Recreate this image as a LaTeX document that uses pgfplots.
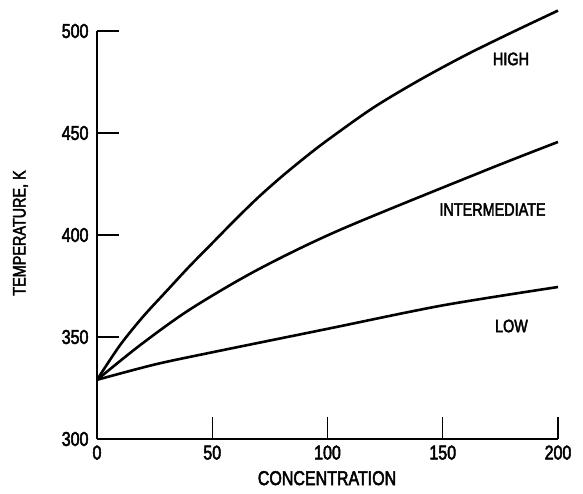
\documentclass[border=0pt]{standalone}
\usepackage{pgfplots}
\pgfplotsset{compat=1.18}
\usepackage{fontspec}
\setmainfont{Liberation Sans}[FakeStretch=0.8,FakeBold=2.5]
\begin{document}
\begin{tikzpicture}
\path[use as bounding box] (-97pt,-55pt) rectangle (486pt,439pt);
\begin{axis}[
  at={(0,0)}, anchor=south west,
  scale only axis, width=461pt, height=408pt,
  xmin=0, xmax=200, ymin=300, ymax=500,
  axis x line*=bottom, axis y line*=left,
  axis line style={line width=1.6pt, -},
  xtick={0,50,100,150,200}, ytick={300,350,400,450,500},
  tick align=inside, major tick length=22pt,
  tick style={line width=1.4pt, black},
  /pgf/number format/assume math mode=true,
  ticklabel style={font=\fontsize{20}{24}\selectfont},
  xticklabel style={yshift=-3pt},
  yticklabel style={xshift=-5pt},
  xlabel={CONCENTRATION},
  ylabel={TEMPERATURE, K},
  xlabel style={font=\fontsize{20}{24}\selectfont, at={(axis description cs:0.499,-0.096)}, anchor=center},
  ylabel style={font=\fontsize{18}{22}\selectfont, at={(axis description cs:-0.166,0.505)}, anchor=center},
  clip=false,
]
\addplot[black, line width=2.6pt, smooth] coordinates {
 (0,329) (10,346) (20,360) (30,372.3) (40,384.5) (50,396) (60,407.5) (70,418.5)
 (80,428.5) (90,437.8) (100,446.5) (120,462.5) (140,476) (160,488.2) (180,499.3) (200,510)
};
\addplot[black, line width=2.6pt, smooth] coordinates {
 (0,329) (18.7,346) (40.3,363.5) (69.4,382.8) (105.4,402.5) (169,431.9) (200,445.6)
};
\addplot[black, line width=2.6pt, smooth] coordinates {
 (0,329) (25,336.5) (50,342.5) (100,354) (150,365.5) (200,374.5)
};
\node[font=\fontsize{18}{22}\selectfont] at (axis cs:179.6,486.3) {HIGH};
\node[font=\fontsize{18}{22}\selectfont] at (axis cs:171.6,412.5) {INTERMEDIATE};
\node[font=\fontsize{18}{22}\selectfont] at (axis cs:179.8,355.4) {LOW};
\end{axis}
\end{tikzpicture}
\end{document}
